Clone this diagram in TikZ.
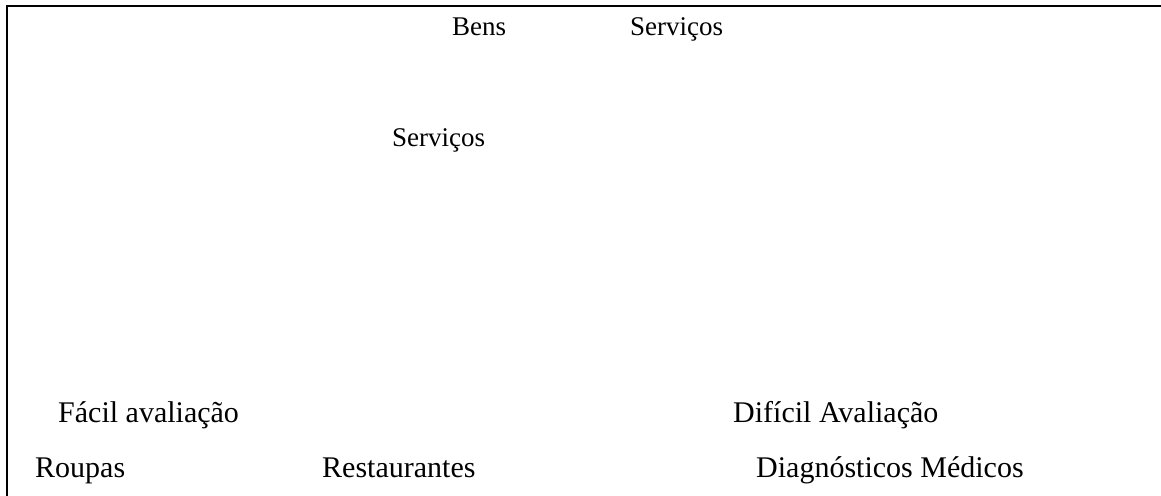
\documentclass[tikz,border=0pt]{standalone}
\usepackage{fontspec}
\setmainfont{Liberation Serif}
\begin{document}
\begin{tikzpicture}[x=1bp,y=-1bp,
  lbl/.style={inner sep=0pt,anchor=base west,font=\fontsize{30bp}{36bp}\selectfont},
  head/.style={lbl,font=\fontsize{27bp}{32bp}\selectfont}]
  \useasboundingbox (0,0) rectangle (1161,496);
  % open frame: top and left edges
  \draw[line width=2.2bp] (1161,6) -- (7,6) -- (7,496);
  % column headings
  \node[head] (bens) at (452,36) {Bens};
  \node[head] (serv1) at (630,36) {Serviços};
  \node[head] (serv2) at (392,147) {Serviços};
  % scale ends
  \node[lbl] (facil) at (58,422) {Fácil avaliação};
  \node[lbl] (dificil) at (733,422) {Difícil Avaliação};
  % examples
  \node[lbl] (roupas) at (35,477) {Roupas};
  \node[lbl] (rest) at (322,477) {Restaurantes};
  \node[lbl] (diag) at (756,477) {Diagnósticos Médicos};
\end{tikzpicture}
\end{document}
